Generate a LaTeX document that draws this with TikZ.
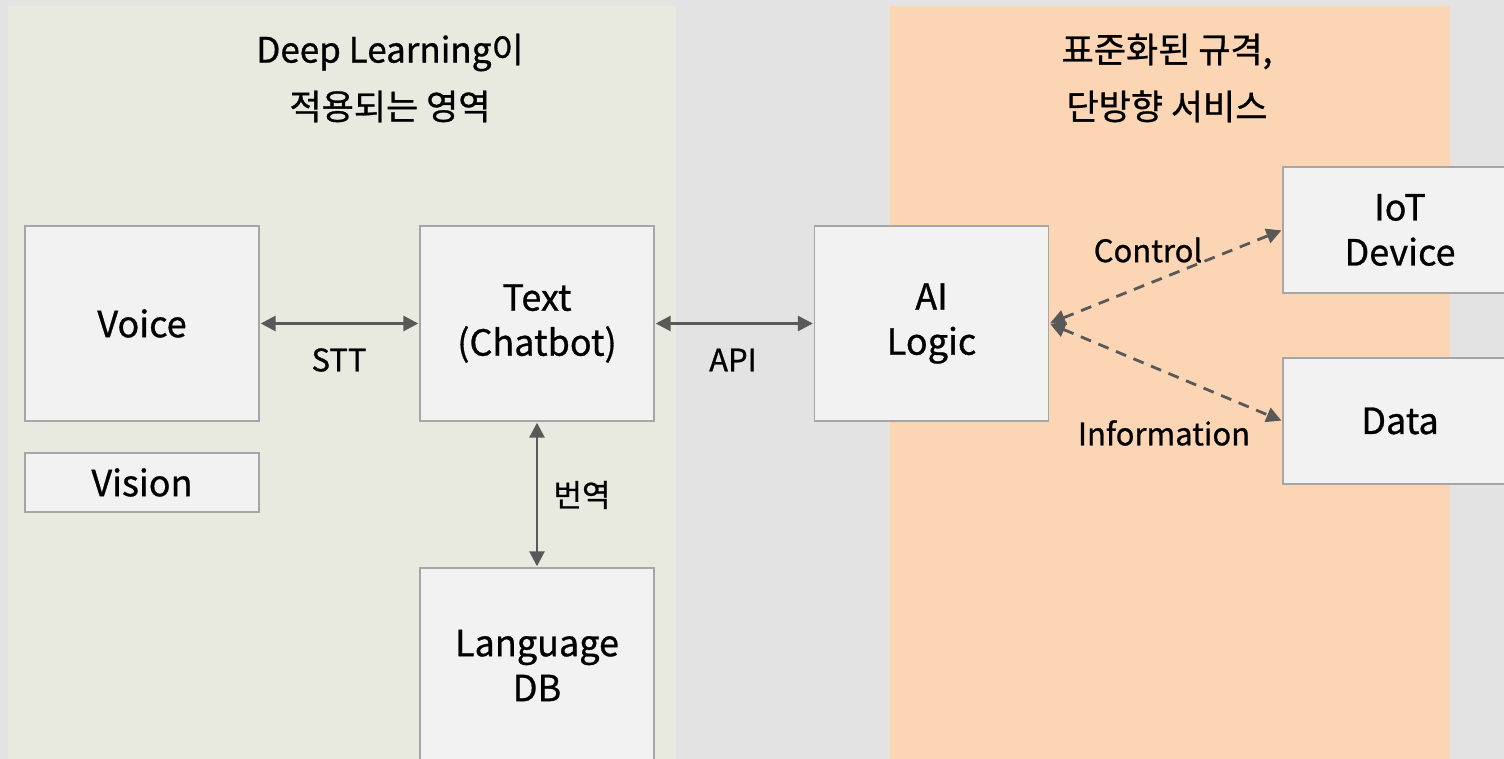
\documentclass[tikz,border=0pt]{standalone}
\usepackage{fontspec}
\setmainfont{Noto Sans CJK KR}[FakeBold=0.8]
\usepackage{tikz}
\usetikzlibrary{arrows.meta,backgrounds,positioning}
\definecolor{pagegray}{HTML}{E3E3E3}
\definecolor{dlgreen}{HTML}{E8EAE0}
\definecolor{stdpeach}{HTML}{FCD5B4}
\definecolor{boxfill}{HTML}{F2F2F2}
\definecolor{boxline}{HTML}{A6A6A6}
\definecolor{arrowgray}{HTML}{595959}
\tikzstyle{block}=[draw=boxline, fill=boxfill, line width=1.4pt, minimum width=234pt, align=center, font=\fontsize{36}{45}\selectfont]
\tikzstyle{lab}=[font=\fontsize{31}{34}\selectfont]
\tikzstyle{title}=[align=center, font=\fontsize{35}{57}\selectfont]
\tikzstyle{link}=[arrowgray, line width=2.8pt, {Triangle[length=15pt,width=15pt]}-{Triangle[length=15pt,width=15pt]}, shorten <=1pt, shorten >=1pt]
\tikzstyle{dlink}=[link, dash pattern=on 11pt off 8pt]

\begin{document}
\begin{tikzpicture}[x=1pt,y=-1pt]
          % canvas and the two areas
          \useasboundingbox (0,0) rectangle (1504,759);
          \clip (0,0) rectangle (1504,759);
          \fill[pagegray] (0,0) rectangle (1504,759);
          \fill[dlgreen] (8,6) rectangle (676,770);
          \fill[stdpeach] (890,6) rectangle (1450,770);
          \node[title] (dltitle) at (390,78) {Deep Learning이\\적용되는 영역};
          \node[title] (stdtitle) at (1167,78) {표준화된 규격,\\단방향 서비스};
          % 
          \node[block, minimum height=195pt] (voice) at (142,323.5) {Voice};
          \node[block, minimum height=59pt] (vision) at (142,482.5) {Vision};
          \node[block, minimum height=195pt] (text) at (537,323.5) {Text\\(Chatbot)};
          \node[block, minimum height=195pt] (langdb) at (537,665.5) {Language\\DB};
          \node[block, minimum height=195pt] (ailogic) at (931.5,323.5) {AI\\Logic};
          \node[block, minimum height=126pt] (iot) at (1400,230) {IoT\\Device};
          \node[block, minimum height=126pt] (data) at (1400,421) {Data};
          % 
          \draw[link] (voice) -- (text);
          \draw[link] (text) -- (ailogic);
          \draw[link] (text) -- (langdb);
          \draw[dlink] (ailogic.east) -- (iot.west);
          \draw[dlink] (ailogic.east) -- (data.west);
          % 
          \node[lab] (stt) at (339,360) {STT};
          \node[lab] (api) at (733,360) {API};
          \node[lab] (trans) at (582,495) {번역};
          \node[lab] (ctrl) at (1148,250) {Control};
          \node[lab] (info) at (1164,433) {Information};
        \end{tikzpicture}
\end{document}
